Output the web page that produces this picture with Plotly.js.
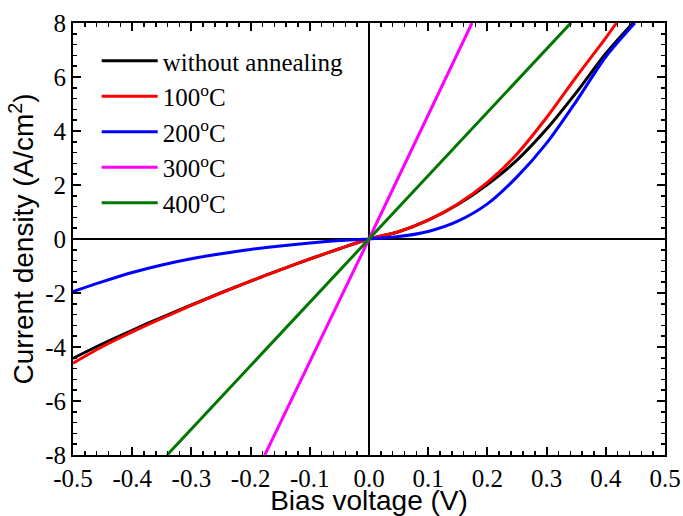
<!DOCTYPE html>
<html>
<head>
<meta charset="utf-8">
<script src="https://cdn.plot.ly/plotly-3.0.1.min.js"></script>
<style>html,body{margin:0;padding:0;background:#fff;}#chart{width:683px;height:516px;}</style>
</head>
<body>
<div id="chart"></div>
<script>
// Bias voltage (V) sample points for the curved series
const vNeg = [-0.5, -0.45, -0.4, -0.35, -0.3, -0.25, -0.2, -0.15, -0.1, -0.05, 0];
const vPos = [0.05, 0.1, 0.15, 0.2, 0.25, 0.3, 0.35, 0.4];

// without annealing
const blackX = vNeg.concat(vPos, [0.446]);
const blackY = [-4.42, -3.88, -3.38, -2.9, -2.44, -1.99, -1.56, -1.14, -0.74, -0.36, 0,
                0.27, 0.70, 1.28, 2.02, 2.92, 4.07, 5.42, 6.87, 8.0];
// 100 °C
const redX = vNeg.concat(vPos, [0.418]);
const redY = [-4.6, -3.98, -3.44, -2.94, -2.46, -2.0, -1.56, -1.14, -0.74, -0.36, 0,
              0.27, 0.70, 1.30, 2.10, 3.15, 4.5, 6.0, 7.45, 8.0];
// 200 °C
const blueX = vNeg.concat(vPos, [0.449]);
const blueY = [-1.95, -1.58, -1.24, -0.96, -0.73, -0.55, -0.39, -0.26, -0.15, -0.06, 0,
               0.09, 0.28, 0.66, 1.3, 2.3, 3.55, 5.1, 6.75, 8.0];
// 300 °C (linear)
const magX = [-0.176, 0, 0.174];
const magY = [-8, 0, 8];
// 400 °C (linear)
const grnX = [-0.341, 0, 0.341];
const grnY = [-8, 0, 8];

// tick labels
const xTickVals = [-0.5, -0.4, -0.3, -0.2, -0.1, 0, 0.1, 0.2, 0.3, 0.4, 0.5];
const xTickText = ['-0.5', '-0.4', '-0.3', '-0.2', '-0.1', '0.0', '0.1', '0.2', '0.3', '0.4', '0.5'];
const yTickVals = [-8, -6, -4, -2, 0, 2, 4, 6, 8];
const yTickText = ['-8', '-6', '-4', '-2', '0', '2', '4', '6', '8'];

const names = ['without annealing', '100<sup>o</sup>C', '200<sup>o</sup>C', '300<sup>o</sup>C', '400<sup>o</sup>C'];
const colors = ['#000000', '#ff0000', '#0000ff', '#ff00ff', '#007700'];
const xs = [blackX, redX, blueX, magX, grnX];
const ys = [blackY, redY, blueY, magY, grnY];

const data = xs.map((x, i) => ({
  x: x, y: ys[i], name: names[i], type: 'scatter', mode: 'lines',
  line: {color: colors[i], width: 3, shape: 'spline', smoothing: 0.8},
  legendgroup: 'g' + i
}));

const serif = {family: 'Liberation Serif, Times New Roman, serif', size: 25, color: '#000'};
const sansFamily = 'Liberation Sans, Arial, sans-serif';

const layout = {
  width: 683, height: 516,
  margin: {l: 73, r: 18, t: 23, b: 61},
  paper_bgcolor: '#fff', plot_bgcolor: '#fff',
  font: serif,
  showlegend: true,
  legend: {x: 0.04, y: 0.965, xanchor: 'left', yanchor: 'top',
           font: serif,
           bgcolor: 'rgba(0,0,0,0)', traceorder: 'grouped', tracegroupgap: 0, itemwidth: 56},
  xaxis: {
    showline: true, mirror: 'ticks', linecolor: '#000', linewidth: 2,
    ticks: 'inside', ticklen: 8, tickwidth: 2, tickcolor: '#000',
    showgrid: false, zeroline: true, zerolinecolor: '#000', zerolinewidth: 2,
    tickfont: serif,
    range: [-0.5, 0.5], tickmode: 'array', tickvals: xTickVals, ticktext: xTickText,
    minor: {ticks: 'inside', ticklen: 4, tickwidth: 1.5, tickcolor: '#000', dtick: 0.02, tick0: 0, showgrid: false},
    title: {text: 'Bias voltage (V)', font: {family: sansFamily, size: 28, color: '#000'}, standoff: 7}
  },
  yaxis: {
    showline: true, mirror: 'ticks', linecolor: '#000', linewidth: 2,
    ticks: 'inside', ticklen: 8, tickwidth: 2, tickcolor: '#000',
    showgrid: false, zeroline: true, zerolinecolor: '#000', zerolinewidth: 2,
    tickfont: serif,
    range: [-8, 8], tickmode: 'array', tickvals: yTickVals, ticktext: yTickText,
    minor: {ticks: 'inside', ticklen: 4, tickwidth: 1.5, tickcolor: '#000', dtick: 0.4, tick0: 0, showgrid: false},
    title: {text: 'Current density (A/cm<sup>2</sup>)', font: {family: sansFamily, size: 28, color: '#000'}, standoff: 3}
  }
};

Plotly.newPlot('chart', data, layout, {displayModeBar: false, staticPlot: true});
</script>
</body>
</html>
